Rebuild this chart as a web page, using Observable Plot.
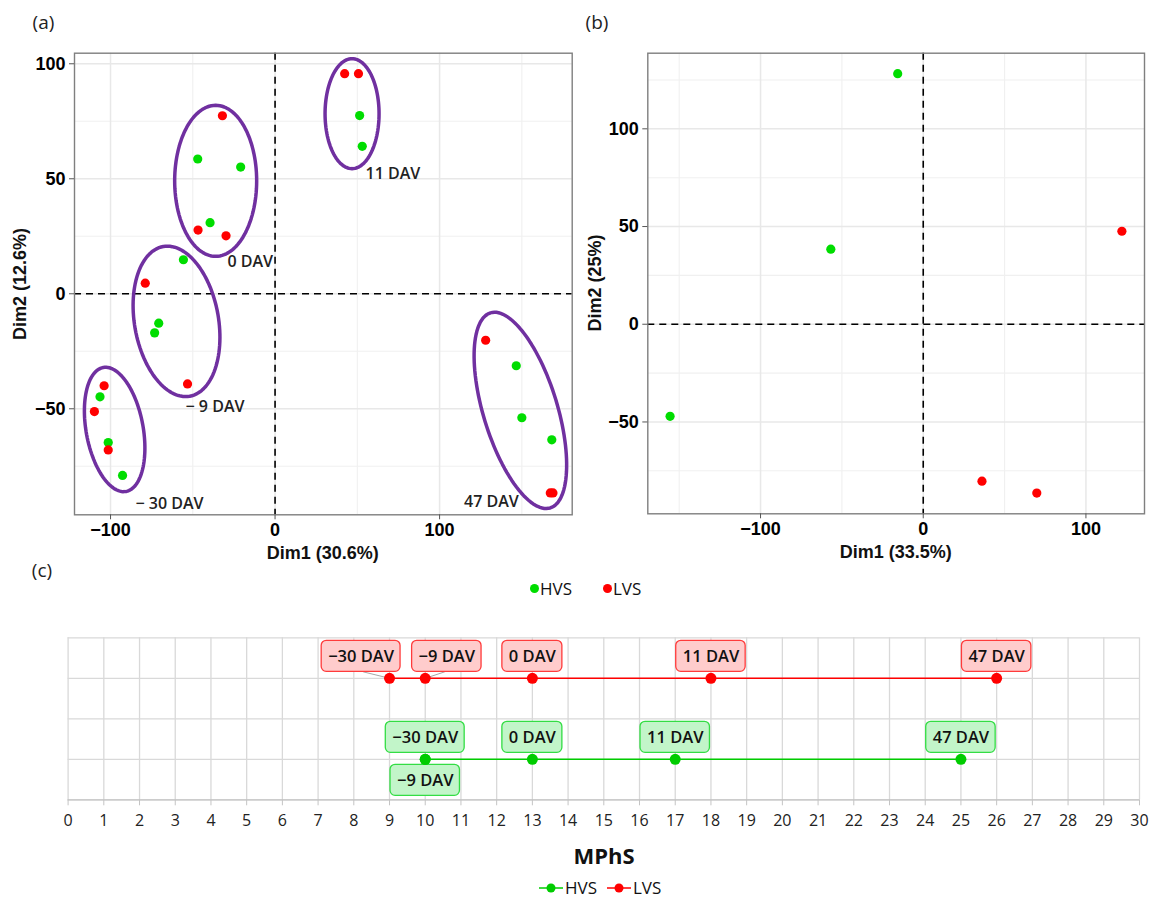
<!DOCTYPE html>
<html><head><meta charset="utf-8">
<script src="https://cdn.jsdelivr.net/npm/d3@7"></script>
<script src="https://cdn.jsdelivr.net/npm/@observablehq/plot@0.6"></script>
<style>
body{margin:0;background:#fff;}
#root{position:relative;width:1153px;height:899px;overflow:hidden;font-family:"Open Sans",sans-serif;background:#fff;}
.abs{position:absolute;white-space:nowrap;line-height:1;}
.c{transform:translate(-50%,-50%);}
.rot{transform:translate(-50%,-50%) rotate(-90deg);}
.ttl{font-family:"Liberation Sans",Arial,sans-serif;font-weight:bold;font-size:18px;color:#111;}
.plab{font-family:"Open Sans",sans-serif;font-size:19px;color:#222;}
.leg{font-family:"Open Sans",sans-serif;font-size:17px;color:#111;display:flex;align-items:center;}
.dot{display:inline-block;width:9px;height:9px;border-radius:50%;}
</style></head>
<body><div id="root"></div>
<script>
// ---------------- data ----------------
const series = ["HVS", "LVS"];
const seriesColor = ["#00dd00", "#ff0000"];

// Panel (a): PCA scores, Dim1 (30.6%) x Dim2 (12.6%)
const aHVSx = [51.4, 53.0, -47.0, -20.9, -39.5, -55.7, -70.7, -73.2, -106.4, -101.4, -92.7, 146.6, 150.0, 168.2];
const aHVSy = [77.5, 64.1, 58.6, 55.1, 30.9, 14.8, -12.8, -17.0, -44.8, -64.7, -79.0, -31.3, -53.9, -63.5];
const aLVSx = [42.3, 50.7, -32.0, -46.8, -29.8, -78.9, -53.2, -103.9, -109.8, -101.4, 128.0, 167.3, 168.9];
const aLVSy = [95.7, 95.7, 77.4, 27.7, 25.2, 4.6, -39.2, -40.0, -51.2, -67.9, -20.2, -86.6, -86.6];
const aStage = ["11 DAV", "0 DAV", "\u2212 9 DAV", "\u2212 30 DAV", "47 DAV"];
const aStageX = [55, -28.9, -54.4, -84.8, 114.9];
const aStageY = [52.3, 14, -49, -91.3, -90.5];
// group ellipses: centre (data), semi-axes (px), tilt (deg)
const ellCx = [46.8, -36.1, -59.9, -97.5, 149.1];
const ellCy = [78.3, 49.1, -12.0, -59.0, -50.7];
const ellA = [55, 75.5, 76, 63, 102];
const ellB = [27, 41, 42, 28.5, 37];
const ellTilt = [0, 0, 10, 10.4, 17];
const aXTicks = [-100, 0, 100], aYTicks = [-50, 0, 50, 100];
const aXMinor = [-50, 50, 150], aYMinor = [-75, -25, 25, 75];

// Panel (b): Dim1 (33.5%) x Dim2 (25%)
const bHVSx = [-15.7, -56.8, -155.6];
const bHVSy = [128.2, 38.4, -47.1];
const bLVSx = [122.1, 36.1, 69.8];
const bLVSy = [47.6, -80.3, -86.4];
const bXTicks = [-100, 0, 100], bYTicks = [-50, 0, 50, 100];
const bXMinor = [-150, -50, 50], bYMinor = [-75, -25, 25, 75, 125];

// Panel (c): MPhS per stage
const stages = ["\u221230 DAV", "\u22129 DAV", "0 DAV", "11 DAV", "47 DAV"];
const hvsMPhS = [10, 10, 13, 17, 25];
const lvsMPhS = [9, 10, 13, 18, 26];
const seriesRow = [1, 3];
const mphsTicks = [0,1,2,3,4,5,6,7,8,9,10,11,12,13,14,15,16,17,18,19,20,21,22,23,24,25,26,27,28,29,30];
const rowTicks = [0, 1, 2, 3, 4];

// ---------------- helpers ----------------
const root = document.getElementById("root");
const fmt = d => d < 0 ? "\u2212" + (-d) : String(d);
function place(el, left, top) { el.style.position = "absolute"; el.style.left = left + "px"; el.style.top = top + "px"; root.appendChild(el); }
function label(text, x, y, cls) { const d = document.createElement("div"); d.className = "abs " + cls; d.textContent = text; d.style.left = x + "px"; d.style.top = y + "px"; root.appendChild(d); return d; }
function toPts(xs, ys, s) { return xs.map((x, i) => ({x, y: ys[i], s})); }
function ellipses(kx, ky) {
  const out = [];
  ellCx.forEach((cx, k) => {
    const phi = ellTilt[k] * Math.PI / 180;
    for (let i = 0; i <= 120; i++) {
      const t = i / 120 * 2 * Math.PI;
      const u = ellB[k] * Math.cos(t), v = ellA[k] * Math.sin(t);
      const dx = u * Math.cos(phi) - v * Math.sin(phi);
      const dy = u * Math.sin(phi) + v * Math.cos(phi);
      out.push({id: k, x: cx + dx / kx, y: ellCy[k] + dy / ky});
    }
  });
  return out;
}
const pcaStyle = {fontFamily: "'Liberation Sans', Arial, sans-serif", fontSize: "18px", fontWeight: "bold", color: "#000", background: "transparent", overflow: "visible"};

function pcaPanel(cfg) {
  const kx = (cfg.W - cfg.ml - cfg.mr) / (cfg.xd[1] - cfg.xd[0]);
  const ky = (cfg.H - cfg.mt - cfg.mb) / (cfg.yd[1] - cfg.yd[0]);
  const marks = [
    Plot.ruleX(cfg.xMinor, {stroke: "#f0f0f0", strokeWidth: 1.1}),
    Plot.ruleY(cfg.yMinor, {stroke: "#f0f0f0", strokeWidth: 1.1}),
    Plot.ruleX(cfg.xTicks, {stroke: "#e8e8e8", strokeWidth: 1.5}),
    Plot.ruleY(cfg.yTicks, {stroke: "#e8e8e8", strokeWidth: 1.5}),
    Plot.ruleX([0], {stroke: "#000", strokeWidth: 1.6, strokeDasharray: "7,5"}),
    Plot.ruleY([0], {stroke: "#000", strokeWidth: 1.6, strokeDasharray: "7,5"})
  ];
  if (cfg.ellipses) marks.push(Plot.line(ellipses(kx, ky), {x: "x", y: "y", z: "id", stroke: "#7030a0", strokeWidth: 3.5, curve: "linear-closed"}));
  marks.push(Plot.dot(cfg.pts, {x: "x", y: "y", fill: "s", r: 4.6}));
  if (cfg.texts) marks.push(Plot.text(cfg.texts, {x: "x", y: "y", text: "t", textAnchor: "start", fontFamily: "Open Sans", fontWeight: 600, fontSize: 16, fill: "#222"}));
  marks.push(
    Plot.frame({stroke: "#7f7f7f", strokeWidth: 1.4}),
    Plot.axisX(cfg.xTicks, {tickSize: 5, tickPadding: 3, stroke: "#555", tickFormat: fmt, label: null, fontSize: 18, fontWeight: "bold"}),
    Plot.axisY(cfg.yTicks, {tickSize: 5, tickPadding: 4, stroke: "#555", tickFormat: fmt, label: null, fontSize: 18, fontWeight: "bold"})
  );
  return Plot.plot({
    width: cfg.W, height: cfg.H, marginLeft: cfg.ml, marginRight: cfg.mr, marginTop: cfg.mt, marginBottom: cfg.mb,
    x: {domain: cfg.xd}, y: {domain: cfg.yd},
    color: {domain: series, range: seriesColor},
    style: pcaStyle,
    marks
  });
}

// ---------------- panel (a) ----------------
const ptsA = [...toPts(aHVSx, aHVSy, "HVS"), ...toPts(aLVSx, aLVSy, "LVS")];
const textsA = aStage.map((t, i) => ({t, x: aStageX[i], y: aStageY[i]}));
place(pcaPanel({W: 580, H: 570, ml: 74, mr: 8.3, mt: 52.7, mb: 55.7, xd: [-121.9, 180.6], yd: [-96.1, 104.6],
  xTicks: aXTicks, yTicks: aYTicks, xMinor: aXMinor, yMinor: aYMinor, pts: ptsA, texts: textsA, ellipses: true}), 0, 0);

// ---------------- panel (b) ----------------
const ptsB = [...toPts(bHVSx, bHVSy, "HVS"), ...toPts(bLVSx, bLVSy, "LVS")];
place(pcaPanel({W: 573, H: 570, ml: 67.3, mr: 9, mt: 52.7, mb: 56.7, xd: [-169.3, 136], yd: [-97, 138.7],
  xTicks: bXTicks, yTicks: bYTicks, xMinor: bXMinor, yMinor: bYMinor, pts: ptsB}), 580, 0);

// titles and panel letters
label("(a)", 43.5, 22, "plab c");
label("(b)", 597, 22, "plab c");
label("(c)", 42, 570, "plab c");
label("Dim1 (30.6%)", 322.8, 552.7, "ttl c");
label("Dim1 (33.5%)", 895.7, 551.7, "ttl c");
label("Dim2 (12.6%)", 20, 283.5, "ttl rot");
label("Dim2 (25%)", 594.5, 283, "ttl rot");

// legend for (a)/(b)
(function () {
  const d = document.createElement("div"); d.className = "abs leg";
  series.forEach((s, i) => {
    const dot = document.createElement("span"); dot.className = "dot"; dot.style.background = seriesColor[i];
    const t = document.createElement("span"); t.textContent = s; t.style.marginLeft = "1px"; t.style.marginRight = i === 0 ? "31px" : "0";
    d.appendChild(dot); d.appendChild(t);
  });
  d.style.left = "530px"; d.style.top = "580px"; root.appendChild(d);
})();

// ---------------- panel (c) ----------------
const C = {W: 1153, H: 240, ml: 67.6, mr: 14, mt: 37.3, mb: 40.7};
const kxC = (C.W - C.ml - C.mr) / 30, kyC = (C.H - C.mt - C.mb) / 4;
const cColor = ["#00cc00", "#ff0000"];
const boxFill = ["#c2f5c9", "#ffcccc"];
const boxStroke = ["#33dd44", "#ff3b3b"];
// label placement (pixels): shifted labels and the one drawn below
const labelShift = {"LVS|\u221230 DAV": -28.4, "LVS|\u22129 DAV": 21.6};
const labelBelow = {"HVS|\u22129 DAV": true};
const ctx = document.createElement("canvas").getContext("2d");
ctx.font = "600 16.5px 'Open Sans'";
const cPts = [], cBoxes = [], cLinks = [];
series.forEach((s, si) => {
  const vals = si === 0 ? hvsMPhS : lvsMPhS;
  vals.forEach((v, i) => {
    const key = s + "|" + stages[i];
    const row = seriesRow[si];
    cPts.push({x: v, y: row, s});
    const dxPx = labelShift[key] || 0;
    const dyPx = labelBelow[key] ? -21 : 22;
    const cx = v + dxPx / kxC, cy = row + dyPx / kyC;
    const halfW = (ctx.measureText(stages[i]).width / 2 + 6.5) / kxC, halfH = 15.5 / kyC;
    cBoxes.push({s, t: stages[i], x: cx, y: cy, x1: cx - halfW, x2: cx + halfW, y1: cy - halfH, y2: cy + halfH});
    if (dxPx) cLinks.push({x1: cx + (dxPx < 0 ? 2 : -2) / kxC, y1: cy - halfH, x2: v, y2: row});
  });
});
const panelC = Plot.plot({
  width: C.W, height: C.H, marginLeft: C.ml, marginRight: C.mr, marginTop: C.mt, marginBottom: C.mb,
  x: {domain: [0, 30]}, y: {domain: [0, 4]},
  color: {domain: series, range: cColor},
  style: {fontFamily: "'Open Sans', sans-serif", fontSize: "16px", color: "#222", background: "transparent", overflow: "visible"},
  marks: [
    Plot.ruleX(mphsTicks, {stroke: "#d9d9d9", strokeWidth: 1.3}),
    Plot.ruleY(rowTicks, {stroke: "#d9d9d9", strokeWidth: 1.3}),
    Plot.ruleY([0], {stroke: "#c4c4c4", strokeWidth: 1.3}),
    Plot.line(cPts, {x: "x", y: "y", z: "s", stroke: "s", strokeWidth: 1.5}),
    Plot.link(cLinks, {x1: "x1", y1: "y1", x2: "x2", y2: "y2", stroke: "#a6a6a6", strokeWidth: 1}),
    Plot.rect(cBoxes, {x1: "x1", x2: "x2", y1: "y1", y2: "y2", fill: d => boxFill[series.indexOf(d.s)], stroke: d => boxStroke[series.indexOf(d.s)], strokeWidth: 1.3, rx: 5, ry: 5}),
    Plot.text(cBoxes, {x: "x", y: "y", text: "t", fontFamily: "Open Sans", fontWeight: 600, fontSize: 16.5, fill: "#111"}),
    Plot.dot(cPts, {x: "x", y: "y", fill: "s", r: 5.5}),
    Plot.axisX(mphsTicks, {tickSize: 6, tickPadding: 9, stroke: "#c4c4c4", label: null, fontSize: 16}),
    Plot.axisY([], {label: null})
  ]
});
place(panelC, 0, 600);
label("MPhS", 604, 855, "c").style.cssText += "font-family:'Open Sans',sans-serif;font-weight:bold;font-size:22px;color:#111;";

// bottom legend
(function () {
  const d = document.createElement("div"); d.className = "abs leg";
  series.forEach((s, i) => {
    const sw = document.createElementNS("http://www.w3.org/2000/svg", "svg");
    sw.setAttribute("width", 24); sw.setAttribute("height", 12);
    sw.innerHTML = `<line x1="0" y1="6" x2="24" y2="6" stroke="${cColor[i]}" stroke-width="1.5"/><circle cx="12" cy="6" r="4.5" fill="${cColor[i]}"/>`;
    const t = document.createElement("span"); t.textContent = s; t.style.marginLeft = "2px"; t.style.marginRight = i === 0 ? "10px" : "0";
    d.appendChild(sw); d.appendChild(t);
  });
  d.style.left = "539px"; d.style.top = "879px"; root.appendChild(d);
})();
</script></body></html>
